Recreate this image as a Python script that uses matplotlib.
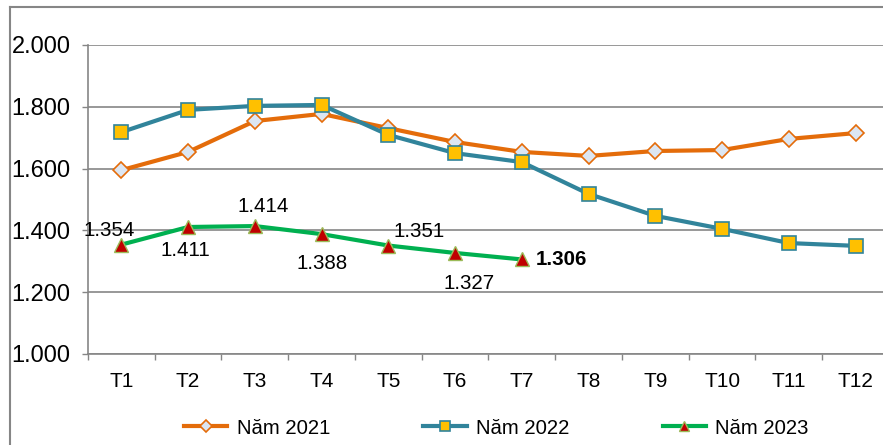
import matplotlib.pyplot as plt
from matplotlib.lines import Line2D

plt.rcParams['font.family'] = ['Liberation Sans', 'DejaVu Sans']

months = ["T1", "T2", "T3", "T4", "T5", "T6", "T7", "T8", "T9", "T10", "T11", "T12"]
nam_2021 = [1.595, 1.654, 1.754, 1.777, 1.731, 1.686, 1.654, 1.641, 1.657, 1.660, 1.696, 1.715]
nam_2022 = [1.718, 1.790, 1.803, 1.806, 1.709, 1.650, 1.621, 1.518, 1.447, 1.405, 1.359, 1.350]
nam_2023 = [1.354, 1.411, 1.414, 1.388, 1.351, 1.327, 1.306]
labels_2023 = ["1.354", "1.411", "1.414", "1.388", "1.351", "1.327", "1.306"]

grid_c = '#868686'

fig = plt.figure(figsize=(8.83, 4.45), dpi=100)
ax = fig.add_axes([88 / 883, 91 / 445, 801 / 883, 309 / 445])

x = list(range(len(months)))
ax.plot(x, nam_2021, color='#E46C0A', lw=3, marker='D', ms=8.5,
        mfc='#DCE6F2', mec='#E46C0A', mew=1.2, label='Năm 2021', zorder=3)
ax.plot(x, nam_2022, color='#31849B', lw=3, marker='s', ms=10.5,
        mfc='#FFC000', mec='#31849B', mew=1.2, label='Năm 2022', zorder=3)
ax.plot(x[:len(nam_2023)], nam_2023, color='#00B050', lw=3, marker='^', ms=10,
        mfc='#C00000', mec='#9BBB59', mew=1.0, label='Năm 2023', zorder=4)

# data labels for 2023 (offsets in points)
offsets = [(-9, 10), (-2, -17), (6, 14), (0, -21), (22, 10), (10, -22), (10, 0)]
for i, (v, t) in enumerate(zip(nam_2023, labels_2023)):
    dx, dy = offsets[i]
    last = i == len(nam_2023) - 1
    ax.annotate(t, (i, v), xytext=(dx, dy), textcoords='offset points',
                ha='left' if last else 'center', va='center', fontsize=14.8,
                fontweight='bold' if last else 'normal', color='black', zorder=5)

ax.set_xlim(-0.5, 11.5)
ax.set_ylim(1.0, 2.0)
ax.set_yticks([1.0, 1.2, 1.4, 1.6, 1.8, 2.0])
ax.set_yticklabels(["1.000", "1.200", "1.400", "1.600", "1.800", "2.000"], fontsize=17)
ax.set_xticks(x)
ax.set_xticklabels(months, fontsize=15)
ax.set_xticks([i + 0.5 for i in range(-1, 12)], minor=True)
ax.tick_params(axis='x', which='major', length=0, pad=13)
ax.tick_params(axis='x', which='minor', length=4.5, color=grid_c, width=1)
ax.tick_params(axis='y', length=4.5, color=grid_c, width=1, pad=8)
ax.grid(axis='y', color=grid_c, lw=1.2)
for s in ['top', 'right']:
    ax.spines[s].set_visible(False)
ax.spines['left'].set_color(grid_c)
ax.spines['bottom'].set_color(grid_c)
ax.spines['left'].set_linewidth(1.2)
ax.spines['bottom'].set_linewidth(1.2)
ax.set_axisbelow(True)

fig.legend(loc='center', bbox_to_anchor=(0.562, 0.038), ncol=3, frameon=False,
           fontsize=14.6, handlelength=2.15, handletextpad=0.45, columnspacing=4.6,
           markerscale=0.75)

# outer frame (only left and top visible)
fig.add_artist(Line2D([10 / 883, 10 / 883], [0, 1 - 7 / 445], color=grid_c, lw=1.5,
                      transform=fig.transFigure))
fig.add_artist(Line2D([10 / 883, 1], [1 - 7 / 445, 1 - 7 / 445], color=grid_c, lw=1.5,
                      transform=fig.transFigure))

plt.savefig("out.png", dpi=100)
